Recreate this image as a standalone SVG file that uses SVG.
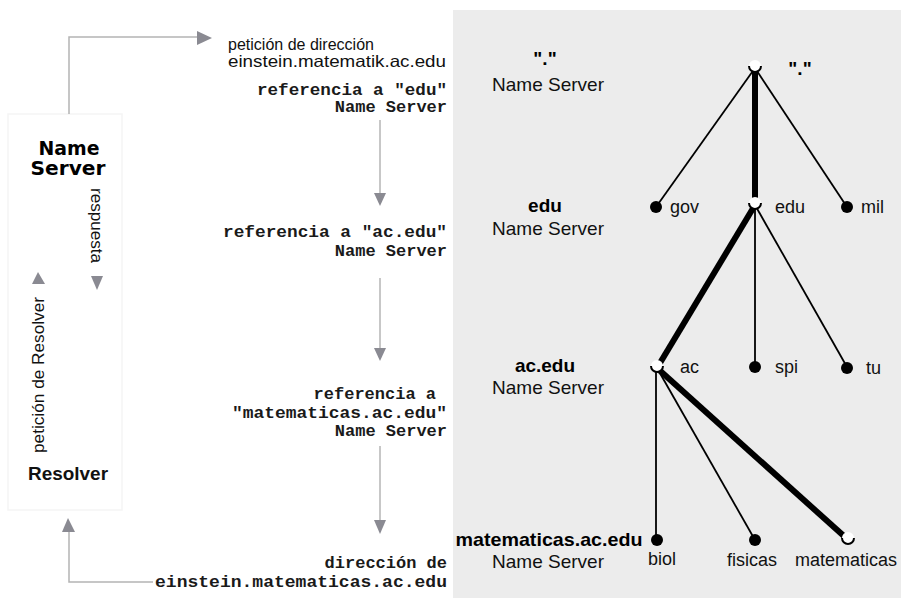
<svg xmlns="http://www.w3.org/2000/svg" width="901" height="606" viewBox="0 0 901 606">
  <style>
    .flow { fill: none; stroke: #b4b4b4; stroke-width: 1.5; }
    .head { fill: #8a8a92; }
    .mono { font-family: "Liberation Mono", "Courier New", monospace; font-size: 17px; font-weight: bold; fill: #1a1a1a; text-anchor: end; }
    .sans { font-family: "Liberation Sans", Arial, sans-serif; fill: #111; }
    .heavy { font-family: "DejaVu Sans", Verdana, sans-serif; font-size: 19px; font-weight: bold; fill: #000; text-anchor: middle; }
    .lbl { font-family: "Liberation Sans", Arial, sans-serif; font-size: 19px; fill: #111; text-anchor: middle; }
    .lblb { font-family: "Liberation Sans", Arial, sans-serif; font-size: 19px; font-weight: bold; fill: #000; text-anchor: middle; }
    .leaf { font-family: "Liberation Sans", Arial, sans-serif; font-size: 18px; fill: #111; }
    .thin { stroke: #000; stroke-width: 1.8; fill: none; }
    .thick { stroke: #000; stroke-width: 6; fill: none; }
    .dot { fill: #000; }
    .hollow { fill: #ffffff; }
    .cup { fill: none; stroke: #000; stroke-width: 2; }
  </style>

  <rect width="901" height="606" fill="#ffffff"/>

  <!-- faint frame around the resolver / name server column -->
  <rect x="8" y="114" width="114" height="396" fill="none" stroke="#f5f5f5" stroke-width="1.5"/>

  <!-- shaded panel holding the name tree -->
  <rect x="453" y="10" width="448" height="588" fill="#ececec"/>

  <!-- left column: resolver and name server -->
  <g id="name-server">
    <text class="heavy" x="69" y="155" textLength="61" lengthAdjust="spacingAndGlyphs">Name</text>
    <text class="heavy" x="68" y="175" textLength="75" lengthAdjust="spacingAndGlyphs">Server</text>
  </g>
  <g id="resolver">
    <text class="sans" x="28" y="480" font-size="18" font-weight="bold" textLength="80" lengthAdjust="spacingAndGlyphs">Resolver</text>
  </g>

  <g id="respuesta">
    <text class="sans" transform="translate(91,188) rotate(90)" font-size="16" textLength="75" lengthAdjust="spacingAndGlyphs">respuesta</text>
    <polygon class="head" points="91,276 103,276 97,290"/>
  </g>
  <g id="peticion-resolver">
    <text class="sans" transform="translate(44,453) rotate(-90)" font-size="16" textLength="156" lengthAdjust="spacingAndGlyphs">petición de Resolver</text>
    <polygon class="head" points="32,284 45,284 38,272"/>
  </g>

  <!-- middle column: request, referrals and answer -->
  <g id="peticion">
    <text class="sans" x="228" y="50" font-size="16.5" textLength="146" lengthAdjust="spacingAndGlyphs">petición de dirección</text>
    <text class="sans" x="228" y="67" font-size="16.5" textLength="218" lengthAdjust="spacingAndGlyphs">einstein.matematik.ac.edu</text>
  </g>
  <g id="ref-edu">
    <text class="mono" x="447" y="95" textLength="190" lengthAdjust="spacingAndGlyphs">referencia a "edu"</text>
    <text class="mono" x="447" y="112">Name Server</text>
  </g>
  <g id="ref-ac-edu">
    <text class="mono" x="447" y="237" textLength="224" lengthAdjust="spacingAndGlyphs">referencia a "ac.edu"</text>
    <text class="mono" x="447" y="256">Name Server</text>
  </g>
  <g id="ref-matematicas">
    <text class="mono" x="436" y="399">referencia a</text>
    <text class="mono" x="447" y="418" textLength="215" lengthAdjust="spacingAndGlyphs">"matematicas.ac.edu"</text>
    <text class="mono" x="447" y="436">Name Server</text>
  </g>
  <g id="direccion">
    <text class="mono" x="447" y="568">dirección de</text>
    <text class="mono" x="447" y="587" textLength="292" lengthAdjust="spacingAndGlyphs">einstein.matematicas.ac.edu</text>
  </g>

  <!-- flow connectors -->
  <g id="connectors">
    <polyline class="flow" points="69,114 69,37 198,37"/>
    <polygon class="head" points="197,31 197,45 212,38"/>

    <line class="flow" x1="380" y1="120" x2="380" y2="194"/>
    <polygon class="head" points="374,193 386,193 380,206"/>

    <line class="flow" x1="380" y1="278" x2="380" y2="349"/>
    <polygon class="head" points="374,348 386,348 380,361"/>

    <line class="flow" x1="380" y1="446" x2="380" y2="521"/>
    <polygon class="head" points="374,520 386,520 380,534"/>

    <polyline class="flow" points="153,582 69,582 69,531"/>
    <polygon class="head" points="62,532 75,532 68,518"/>
  </g>

  <!-- right panel: server labels -->
  <g id="root-server">
    <text class="lblb" x="545" y="65">"."</text>
    <text class="lbl" x="548" y="91">Name Server</text>
  </g>
  <g id="edu-server">
    <text class="lblb" x="545" y="212">edu</text>
    <text class="lbl" x="548" y="235">Name Server</text>
  </g>
  <g id="ac-edu-server">
    <text class="lblb" x="545" y="372">ac.edu</text>
    <text class="lbl" x="548" y="394">Name Server</text>
  </g>
  <g id="matematicas-server">
    <text class="lblb" x="549" y="546" textLength="187" lengthAdjust="spacingAndGlyphs">matematicas.ac.edu</text>
    <text class="lbl" x="548" y="568">Name Server</text>
  </g>

  <!-- name tree edges -->
  <g id="tree-edges">
    <line class="thin" x1="755" y1="68" x2="656" y2="207"/>
    <line class="thin" x1="755" y1="68" x2="847" y2="207"/>
    <line class="thick" x1="755" y1="68" x2="755" y2="205"/>
    <line class="thin" x1="755" y1="205" x2="755" y2="367"/>
    <line class="thin" x1="755" y1="205" x2="847" y2="367"/>
    <line class="thick" x1="755" y1="205" x2="657" y2="368"/>
    <line class="thin" x1="656" y1="368" x2="656" y2="540"/>
    <line class="thin" x1="657" y1="368" x2="755" y2="540"/>
    <line class="thick" x1="657" y1="368" x2="845" y2="537"/>
  </g>

  <!-- name tree nodes -->
  <g id="node-root">
    <circle class="hollow" cx="755" cy="66" r="6"/>
    <path class="cup" d="M749,66 A6,6 0 0 0 761,66"/>
    <text class="lblb" x="800" y="75" font-size="17">"."</text>
  </g>
  <g id="node-gov">
    <circle class="dot" cx="656" cy="207" r="6"/>
    <text class="leaf" x="670" y="213">gov</text>
  </g>
  <g id="node-edu">
    <circle class="hollow" cx="755" cy="203" r="6"/>
    <path class="cup" d="M749,203 A6,6 0 0 0 761,203"/>
    <text class="leaf" x="775" y="213">edu</text>
  </g>
  <g id="node-mil">
    <circle class="dot" cx="847" cy="207" r="6"/>
    <text class="leaf" x="861" y="213">mil</text>
  </g>
  <g id="node-ac">
    <circle class="hollow" cx="657" cy="366" r="6"/>
    <path class="cup" d="M651,366 A6,6 0 0 0 663,366"/>
    <text class="leaf" x="680" y="373">ac</text>
  </g>
  <g id="node-spi">
    <circle class="dot" cx="755" cy="367" r="6"/>
    <text class="leaf" x="775" y="373">spi</text>
  </g>
  <g id="node-tu">
    <circle class="dot" cx="847" cy="368" r="6"/>
    <text class="leaf" x="866" y="374">tu</text>
  </g>
  <g id="node-biol">
    <circle class="dot" cx="657" cy="540" r="6"/>
    <text class="leaf" x="648" y="565">biol</text>
  </g>
  <g id="node-fisicas">
    <circle class="dot" cx="755" cy="540" r="6"/>
    <text class="leaf" x="727" y="566">fisicas</text>
  </g>
  <g id="node-matematicas">
    <circle class="hollow" cx="848" cy="538" r="6"/>
    <path class="cup" d="M842,538 A6,6 0 0 0 854,538"/>
    <text class="leaf" x="795" y="566" font-size="19">matematicas</text>
  </g>
</svg>
